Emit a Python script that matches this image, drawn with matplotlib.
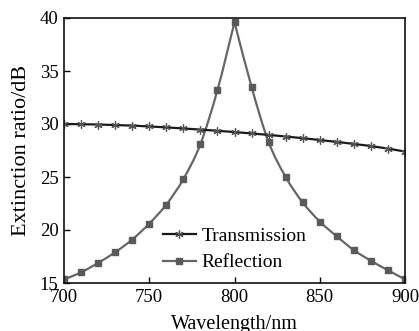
import matplotlib
matplotlib.use("Agg")
import matplotlib.pyplot as plt
from matplotlib.path import Path
from matplotlib.patches import PathPatch
from matplotlib.lines import Line2D
import numpy as np

plt.rcParams['font.family'] = ['Liberation Serif', 'DejaVu Serif']

wavelength = [700, 710, 720, 730, 740, 750, 760, 770, 780, 790, 800,
              810, 820, 830, 840, 850, 860, 870, 880, 890, 900]
transmission = [30.0, 29.98, 29.95, 29.9, 29.85, 29.77, 29.68, 29.58, 29.47, 29.36, 29.24,
                29.11, 28.97, 28.82, 28.66, 28.49, 28.31, 28.12, 27.92, 27.68, 27.4]
reflection = [15.35, 16.0, 16.9, 17.9, 19.1, 20.6, 22.4, 24.8, 28.1, 33.2, 39.6,
              33.5, 28.3, 25.0, 22.6, 20.8, 19.4, 18.1, 17.1, 16.2, 15.35]

x_ticks = [700, 750, 800, 850, 900]
y_ticks = [15, 20, 25, 30, 35, 40]

T_COLOR = '#1a1a1a'
R_COLOR = '#666666'


def smooth_path(xs, ys):
    """Cubic Bezier path through the points (Catmull-Rom tangents,
    one-sided tangents at both ends)."""
    p = np.column_stack([xs, ys]).astype(float)
    n = len(p)
    tang = np.zeros_like(p)
    for i in range(n):
        if i == 0:
            tang[i] = p[1] - p[0]
        elif i == n - 1:
            tang[i] = p[-1] - p[-2]
        else:
            tang[i] = (p[i + 1] - p[i - 1]) / 2
    verts = [p[0]]
    codes = [Path.MOVETO]
    for i in range(n - 1):
        verts += [p[i] + tang[i] / 3, p[i + 1] - tang[i + 1] / 3, p[i + 1]]
        codes += [Path.CURVE4] * 3
    return verts, codes


fig = plt.figure(figsize=(4.19, 3.31), dpi=100)
ax = fig.add_axes([64 / 419, 1 - 283 / 331, (405 - 64) / 419, (283 - 18) / 331])

# transmission: nearly flat line with asterisk markers
ax.plot(wavelength, transmission, color=T_COLOR, lw=1.6,
        marker=(6, 2, 0), markersize=6, markeredgewidth=0.9,
        markeredgecolor='#555555')

# reflection: smooth curve on each side of the resonance peak
peak = int(np.argmax(reflection))
for sl in (slice(0, peak + 1), slice(peak, None)):
    verts, codes = smooth_path(wavelength[sl], reflection[sl])
    ax.add_patch(PathPatch(Path(verts, codes), facecolor='none',
                           edgecolor=R_COLOR, lw=1.6))
ax.plot(wavelength, reflection, ls='none', marker='s', markersize=4.5,
        markerfacecolor='#5a5a5a', markeredgecolor='#5a5a5a')

ax.set_xlim(700, 900)
ax.set_ylim(15, 40)
ax.set_xticks(x_ticks)
ax.set_yticks(y_ticks)
ax.tick_params(direction='in', length=4, width=1, labelsize=13.5,
               top=False, right=False, pad=4)
for s in ax.spines.values():
    s.set_linewidth(1.2)
    s.set_color('#111111')

ax.set_xlabel('Wavelength/nm', fontsize=14.5, labelpad=7)
ax.set_ylabel('Extinction ratio/dB', fontsize=16, labelpad=6)

handles = [
    Line2D([], [], color=T_COLOR, lw=1.6, marker=(6, 2, 0), markersize=6,
           markeredgewidth=0.9, markeredgecolor='#555555'),
    Line2D([], [], color=R_COLOR, lw=1.6, marker='s', markersize=4.5,
           markerfacecolor='#5a5a5a', markeredgecolor='#5a5a5a'),
]
ax.legend(handles, ['Transmission', 'Reflection'],
          loc='lower left', bbox_to_anchor=(0.255, 0.0), frameon=False,
          fontsize=14, handlelength=1.7, handletextpad=0.3,
          labelspacing=0.45, borderaxespad=0.2)

fig.savefig('out.png', dpi=100, facecolor='white')
